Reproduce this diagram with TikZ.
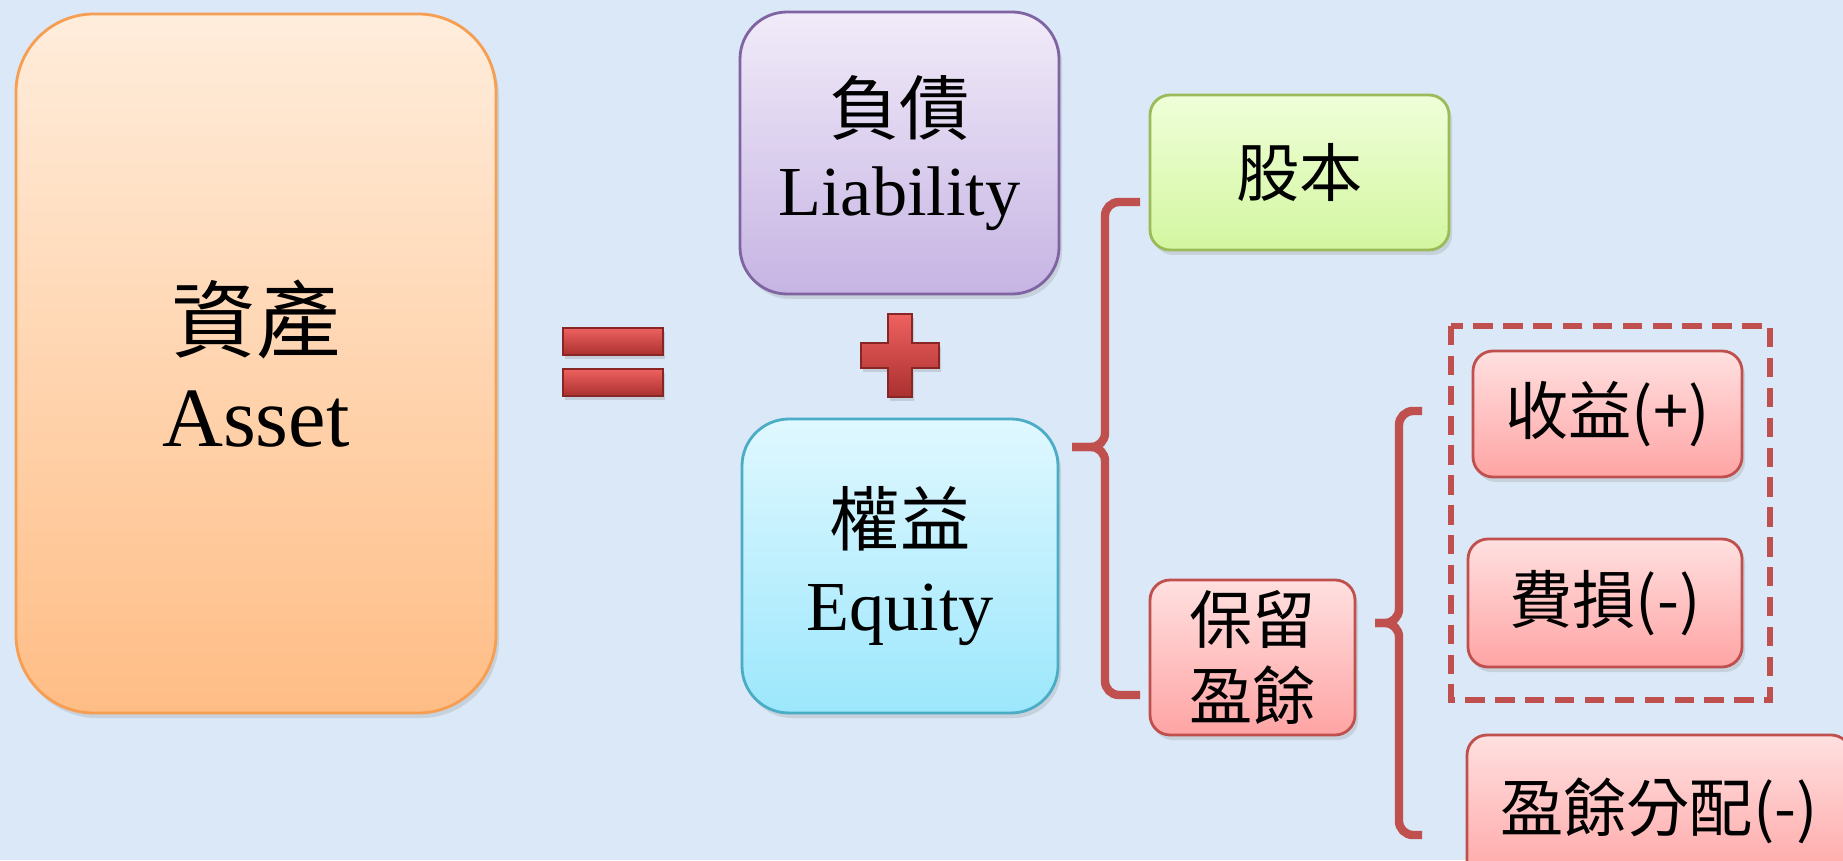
\documentclass[tikz,border=0pt]{standalone}
\usepackage{fontspec}
\setmainfont{Liberation Serif}
\newfontfamily\cjk{Noto Sans CJK TC}
\usetikzlibrary{shadows}

\definecolor{bgblue}{RGB}{218,232,247}
\definecolor{assettop}{RGB}{255,237,220}
\definecolor{assetbot}{RGB}{255,189,133}
\definecolor{assetline}{RGB}{246,158,82}
\definecolor{liabtop}{RGB}{241,235,249}
\definecolor{liabbot}{RGB}{198,180,227}
\definecolor{liabline}{RGB}{128,100,162}
\definecolor{eqtop}{RGB}{224,248,255}
\definecolor{eqbot}{RGB}{156,231,252}
\definecolor{eqline}{RGB}{75,172,198}
\definecolor{stocktop}{RGB}{239,255,217}
\definecolor{stockbot}{RGB}{211,246,160}
\definecolor{stockline}{RGB}{155,187,89}
\definecolor{redtop}{RGB}{255,224,224}
\definecolor{redbot}{RGB}{255,164,164}
\definecolor{redline}{RGB}{192,80,77}
\definecolor{signtop}{RGB}{238,98,96}
\definecolor{signbot}{RGB}{170,48,47}

\tikzset{
    box/.style={rectangle, inner sep=0pt, align=center, line width=0.8pt,
        drop shadow={opacity=.22, shadow xshift=.03cm, shadow yshift=-.05cm}},
    assetbox/.style={box, draw=assetline, top color=assettop, bottom color=assetbot, rounded corners=0.78cm},
    liabbox/.style={box, draw=liabline, top color=liabtop, bottom color=liabbot, rounded corners=0.47cm},
    eqbox/.style={box, draw=eqline, top color=eqtop, bottom color=eqbot, rounded corners=0.47cm},
    stockbox/.style={box, draw=stockline, top color=stocktop, bottom color=stockbot, rounded corners=0.2cm},
    redbox/.style={box, draw=redline, top color=redtop, bottom color=redbot, rounded corners=0.2cm},
    brace/.style={draw=redline, line width=2.4pt, rounded corners=0.14cm},
    dashbox/.style={draw=redline, line width=1.5pt, dash pattern=on 5.5pt off 3pt},
    sign/.style={top color=signtop, bottom color=signbot, draw=signbot!80!black, line width=0.4pt,
        drop shadow={opacity=.25, shadow xshift=.02cm, shadow yshift=-.04cm}}
}

\begin{document}
\begin{tikzpicture}

    \useasboundingbox (0,0) rectangle (18.43,8.60);
    \clip (0,0) rectangle (18.43,8.60);
    \fill[bgblue] (0,0) rectangle (18.43,8.60);

    \node[assetbox, minimum width=4.80cm, minimum height=6.99cm, font=\fontsize{24}{27}\selectfont] (asset) at (2.56,4.965) {{\cjk 資產}\\Asset};

    \foreach \y in {5.05,4.64}
        \path[sign] (5.63,\y) rectangle (6.63,\y+0.27);
    \path[sign] (8.88,5.46) -- (9.12,5.46) -- (9.12,5.17) -- (9.39,5.17) -- (9.39,4.92) -- (9.12,4.92) -- (9.12,4.63) -- (8.88,4.63) -- (8.88,4.92) -- (8.61,4.92) -- (8.61,5.17) -- (8.88,5.17) -- cycle;

    \node[liabbox, minimum width=3.19cm, minimum height=2.82cm, font=\fontsize{20}{23}\selectfont] (liab) at (8.995,7.07) {{\cjk 負債}\\Liability};
    \node[eqbox, minimum width=3.16cm, minimum height=2.94cm, font=\fontsize{20}{24}\selectfont] (equity) at (9.00,2.94) {{\cjk 權益}\\Equity};

    \coordinate (tip1) at (10.72,4.13);
    \draw[brace] (11.40,6.58) -- (11.05,6.58) -- (11.05,4.13) -- (tip1);
    \draw[brace] (11.40,1.65) -- (11.05,1.65) -- (11.05,4.13) -- (tip1);

    \node[stockbox, minimum width=2.99cm, minimum height=1.55cm, font=\cjk\fontsize{18}{21}\selectfont] (stock) at (12.995,6.875) {股本};
    \node[redbox, minimum width=2.05cm, minimum height=1.55cm, font=\cjk\fontsize{18}{21.5}\selectfont] (retained) at (12.525,2.025) {保留\\盈餘};

    \coordinate (tip2) at (13.75,2.37);
    \draw[brace] (14.22,4.49) -- (13.99,4.49) -- (13.99,2.37) -- (tip2);
    \draw[brace] (14.22,0.25) -- (13.99,0.25) -- (13.99,2.37) -- (tip2);

    \draw[dashbox] (14.51,5.34) rectangle (17.70,1.60);

    \node[redbox, minimum width=2.69cm, minimum height=1.26cm, font=\cjk\fontsize{18}{21}\selectfont] (revenue) at (16.075,4.46) {收益(+)};
    \node[redbox, minimum width=2.74cm, minimum height=1.28cm, font=\cjk\fontsize{18}{21}\selectfont] (expense) at (16.05,2.57) {費損(-)};
    \node[redbox, minimum width=3.84cm, minimum height=1.51cm, font=\cjk\fontsize{18}{21}\selectfont] (dividend) at (16.59,0.495) {盈餘分配(-)};

\end{tikzpicture}
\end{document}
